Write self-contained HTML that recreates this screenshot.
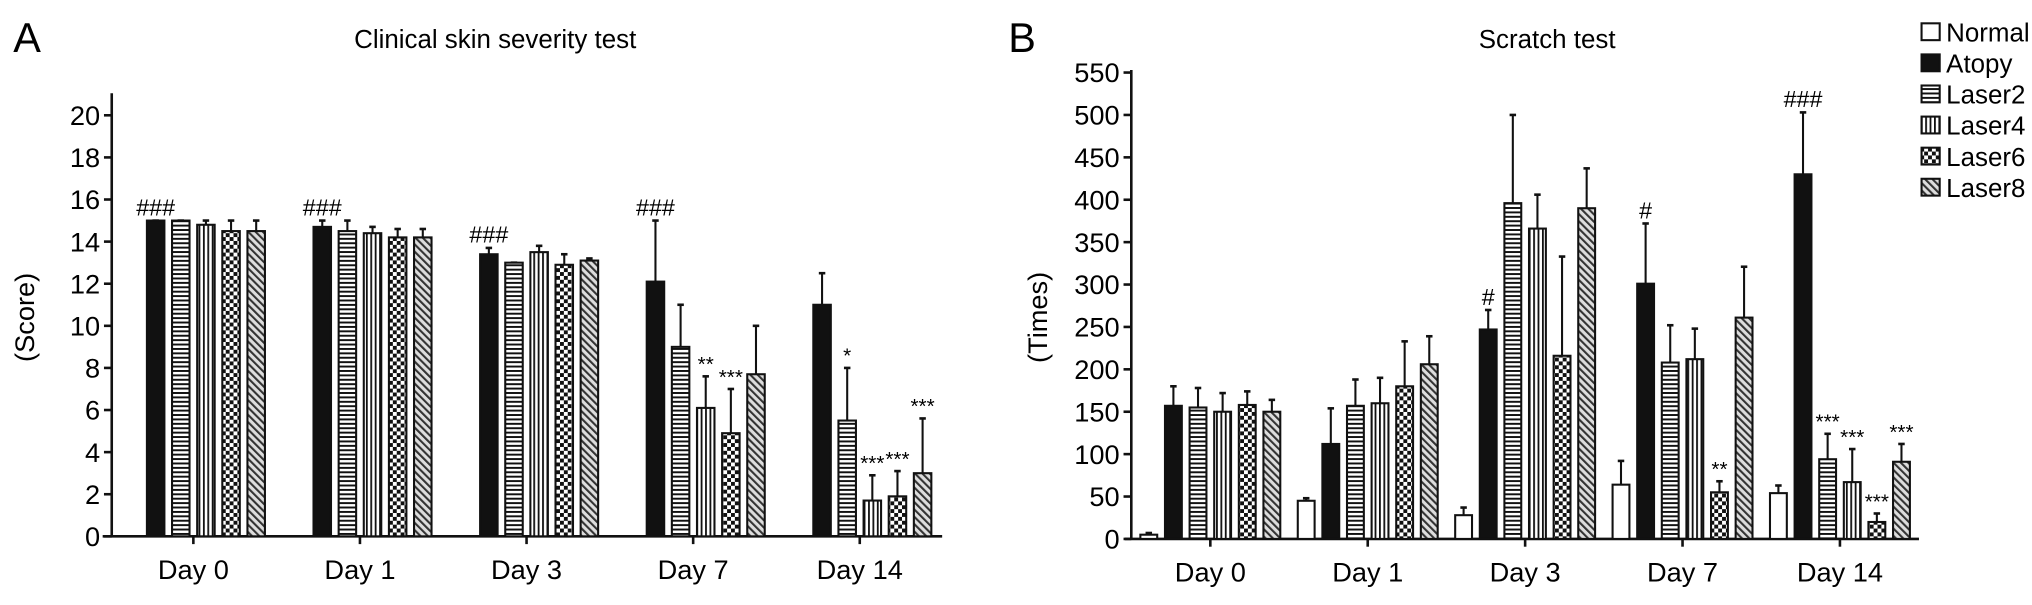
<!DOCTYPE html>
<html><head><meta charset="utf-8"><style>
html,body{margin:0;padding:0;background:#fff;}
svg{display:block;font-family:"Liberation Sans",Arial,sans-serif;}
</style></head><body>
<svg id="chart" width="2032" height="605" viewBox="0 0 1568 467" xmlns="http://www.w3.org/2000/svg">
<defs>
<pattern id="p-h" patternUnits="userSpaceOnUse" width="4" height="3.4"><rect width="4" height="3.4" fill="#fff"/><rect y="0" width="4" height="1.5" fill="#111"/></pattern>
<pattern id="p-v" patternUnits="userSpaceOnUse" width="3.4" height="4"><rect width="3.4" height="4" fill="#fff"/><rect x="0" width="1.4" height="4" fill="#111"/></pattern>
<pattern id="p-c" patternUnits="userSpaceOnUse" width="6" height="6"><rect width="6" height="6" fill="#fff"/><rect width="3" height="3" fill="#111"/><rect x="3" y="3" width="3" height="3" fill="#111"/></pattern>
<pattern id="p-d" patternUnits="userSpaceOnUse" width="4" height="4" patternTransform="rotate(-45)"><rect width="4" height="4" fill="#ddd"/><rect width="1.6" height="4" fill="#333"/></pattern>
</defs>
<text x="10" y="40" font-size="32">A</text>
<text x="382" y="37" font-size="20" text-anchor="middle">Clinical skin severity test</text>
<text transform="translate(26,245) rotate(-90)" font-size="21" text-anchor="middle">(Score)</text>
<text x="778" y="40" font-size="32">B</text>
<text x="1194" y="37" font-size="20" text-anchor="middle">Scratch test</text>
<text transform="translate(808,245) rotate(-90)" font-size="21" text-anchor="middle">(Times)</text>
<g id="gA"></g>
<g id="gB"></g>
<g id="legend"></g>
</svg>
<script>
const categories = ["Day 0","Day 1","Day 3","Day 7","Day 14"];
const seriesNames = ["Normal","Atopy","Laser2","Laser4","Laser6","Laser8"];
const ticksA = [0,2,4,6,8,10,12,14,16,18,20];
const ticksB = [0,50,100,150,200,250,300,350,400,450,500,550];
// Panel A: Atopy, Laser2, Laser4, Laser6, Laser8 (Normal absent)
const scoreAtopy  = [15.0,14.7,13.4,12.1,11.0];
const scoreLaser2 = [15.0,14.5,13.0,9.0,5.5];
const scoreLaser4 = [14.8,14.4,13.5,6.1,1.7];
const scoreLaser6 = [14.5,14.2,12.9,4.9,1.9];
const scoreLaser8 = [14.5,14.2,13.1,7.7,3.0];
const scoreErrAtopy  = [0.0,0.3,0.3,2.9,1.5];
const scoreErrLaser2 = [0.0,0.5,0.0,2.0,2.5];
const scoreErrLaser4 = [0.2,0.3,0.3,1.5,1.2];
const scoreErrLaser6 = [0.5,0.4,0.5,2.1,1.2];
const scoreErrLaser8 = [0.5,0.4,0.1,2.3,2.6];
const scoreMarks = [["","###","","","",""],["","###","","","",""],["","###","","","",""],["","###","","**","***",""],["","","*","***","***","***"]];
// Panel B
const scrNormal = [5,45,28,64,54];
const scrAtopy  = [157,112,247,301,430];
const scrLaser2 = [155,157,396,208,94];
const scrLaser4 = [150,160,366,212,67];
const scrLaser6 = [158,180,216,55,20];
const scrLaser8 = [150,206,390,261,91];
const scrErrNormal = [2,3,9,28,9];
const scrErrAtopy  = [23,42,23,71,73];
const scrErrLaser2 = [23,31,104,44,30];
const scrErrLaser4 = [22,30,40,36,39];
const scrErrLaser6 = [16,53,117,13,10];
const scrErrLaser8 = [14,33,47,60,21];
const scrMarks = [["","","","","",""],["","","","","",""],["","#","","","",""],["","#","","","**",""],["","###","***","***","***","***"]];

const fills = ["#fff","#111","url(#p-h)","url(#p-v)","url(#p-c)","url(#p-d)"];
const NS="http://www.w3.org/2000/svg";
function mk(p,tag,attrs){const e=document.createElementNS(NS,tag);for(const k in attrs)e.setAttribute(k,attrs[k]);p.appendChild(e);return e;}

function drawPanel(g,cfg){
  const y=v=>cfg.y0-(v-cfg.vmin)/(cfg.vmax-cfg.vmin)*(cfg.y0-cfg.yTop);
  const ax=mk(g,'line',{x1:cfg.ax,x2:cfg.ax,y1:cfg.axisTop,y2:cfg.y0,stroke:'#111','stroke-width':2});
  
  const xa=mk(g,'line',{x1:cfg.xa0,x2:cfg.xa1,y1:cfg.y0,y2:cfg.y0,stroke:'#111','stroke-width':2});
  
  cfg.ticks.forEach(t=>{
    mk(g,'line',{x1:cfg.ax-6,x2:cfg.ax,y1:y(t),y2:y(t),stroke:'#111','stroke-width':2});
    const tx=mk(g,'text',{x:cfg.ax-9,y:y(t)+7.5,'font-size':21,'text-anchor':'end'});tx.textContent=t;
    
  });
  categories.forEach((c,i)=>{
    const cx=cfg.c0+i*cfg.cstep;
    mk(g,'line',{x1:cx,x2:cx,y1:cfg.y0,y2:cfg.y0+6,stroke:'#111','stroke-width':2});
    const tx=mk(g,'text',{x:cx,y:cfg.y0+33,'font-size':21,'text-anchor':'middle'});tx.textContent=c;
    
    cfg.series.forEach((vals,s)=>{
      if(!vals)return;
      const v=vals[i],e=cfg.errs[s][i];
      const bx=cx+(s-2.5)*cfg.slot-cfg.bw/2, bc=bx+cfg.bw/2;
      const top=y(v+e);
      mk(g,'line',{x1:bc,x2:bc,y1:top,y2:y(v),stroke:'#111','stroke-width':1.6});
      mk(g,'line',{x1:bc-2.5,x2:bc+2.5,y1:top,y2:top,stroke:'#111','stroke-width':2});
      const r=mk(g,'rect',{x:bx,y:y(v),width:cfg.bw,height:Math.max(0,cfg.y0-y(v)),fill:fills[s],stroke:'#111','stroke-width':1.6});
      
      
      const m=cfg.marks[i][s];
      if(m){const t=mk(g,'text',{x:bc,y:top-4,'font-size':m[0]=='#'?18:16,'text-anchor':'middle'});t.textContent=m;
        }
    });
  });
}
drawPanel(document.getElementById('gA'),{
  y0:414,yTop:89,vmin:0,vmax:20,ax:86,axisTop:72,xa0:79,xa1:727,c0:149,cstep:128.6,slot:19.4,bw:13.5,
  ticks:ticksA,series:[null,scoreAtopy,scoreLaser2,scoreLaser4,scoreLaser6,scoreLaser8],
  errs:[null,scoreErrAtopy,scoreErrLaser2,scoreErrLaser4,scoreErrLaser6,scoreErrLaser8],marks:scoreMarks});
drawPanel(document.getElementById('gB'),{
  y0:416,yTop:56,vmin:0,vmax:550,ax:873,axisTop:54,xa0:868,xa1:1481,c0:934,cstep:121.5,slot:19,bw:13,
  ticks:ticksB,series:[scrNormal,scrAtopy,scrLaser2,scrLaser4,scrLaser6,scrLaser8],
  errs:[scrErrNormal,scrErrAtopy,scrErrLaser2,scrErrLaser4,scrErrLaser6,scrErrLaser8],marks:scrMarks});
const lg=document.getElementById('legend');
seriesNames.forEach((n,i)=>{
  const yy=26+i*24;
  const r=mk(lg,'rect',{x:1483,y:yy-8,width:14,height:13,fill:fills[i],stroke:'#111','stroke-width':1.6});
  
  const t=mk(lg,'text',{x:1502,y:yy+6,'font-size':20});t.textContent=n;
  
});
</script>
</body></html>
